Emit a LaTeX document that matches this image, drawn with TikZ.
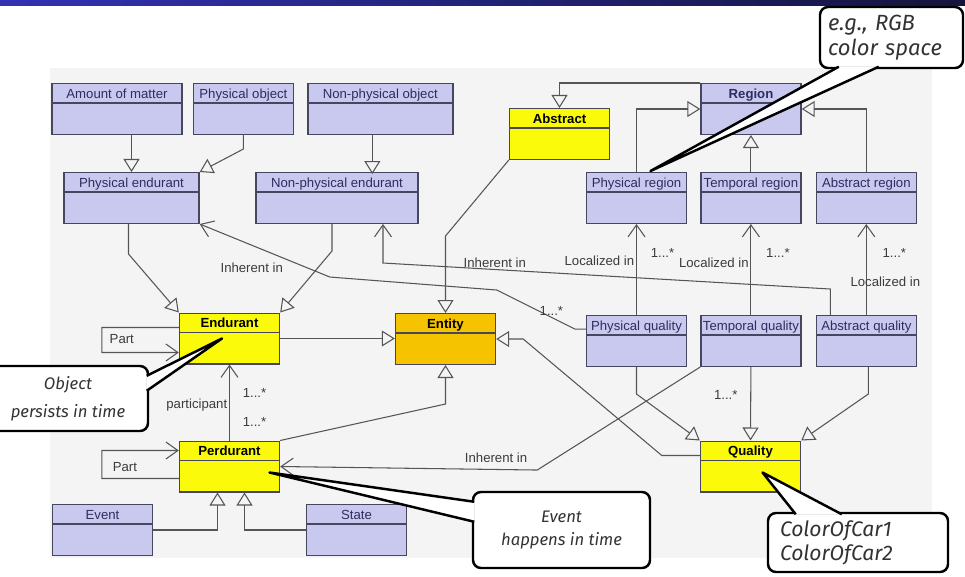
\documentclass[tikz,border=0pt]{standalone}
\usepackage{fontspec}
\setmainfont{Liberation Sans}
\newfontfamily\notefont{Fira Sans}
\usepackage{xcolor}
\usetikzlibrary{positioning,arrows.meta,calc}

\definecolor{lav}{RGB}{201,201,240}
\definecolor{boxc}{RGB}{70,70,95}
\definecolor{navy}{RGB}{45,45,95}
\definecolor{keyyel}{RGB}{250,250,10}
\definecolor{keyorg}{RGB}{245,195,0}
\definecolor{linec}{RGB}{85,85,85}
\definecolor{lblc}{RGB}{60,60,60}
\definecolor{bgc}{RGB}{244,244,244}
\definecolor{barl}{RGB}{50,50,180}
\definecolor{bard}{RGB}{20,20,60}

\begin{document}
\begin{tikzpicture}[x=0.2mm, y=-0.2mm,
  font=\fontsize{7.5}{9}\selectfont,
  cls/.style={draw=boxc, line width=0.8pt, fill=lav, minimum width=20mm, inner xsep=1pt, inner ysep=1.4pt,
    text height=7pt, text depth=19pt, text=navy,
    path picture={\draw[boxc, line width=0.7pt] ([yshift=-11pt]path picture bounding box.north west) -- ([yshift=-11pt]path picture bounding box.north east);}},
  key/.style={cls, fill=keyyel, text=black, font=\bfseries\fontsize{7.5}{9}\selectfont},
  gen/.style={draw=linec, line width=0.6pt, -{Triangle[open,length=2.6mm,width=3.2mm]}},
  assoc/.style={draw=linec, line width=0.6pt, -{Straight Barb[length=2.4mm,width=3.4mm]}},
  lbl/.style={text=lblc, inner sep=1pt},
  note/.style={draw=black, line width=1.4pt, fill=white, rounded corners=1.6mm, align=center, text=black!80,
    font=\notefont\itshape\fontsize{9.5}{13.5}\selectfont},
  notetip/.style={draw=black, line width=1.4pt, fill=white, line join=round}
]
\useasboundingbox (0,0) rectangle (965,576);
\shade[left color=barl, right color=bard] (0,0) rectangle (965,5);
\fill[bgc] (50,68) rectangle (932,558);

% top rows
\node[cls, minimum width=26mm] (amount) at (117,109) {Amount of matter};
\node[cls, right=2mm of amount] (physobj) {Physical object};
\node[cls, minimum width=29mm, right=2.6mm of physobj] (nonphysobj) {Non-physical object};
\node[cls, minimum width=27mm] (physend) at (131.5,198) {Physical endurant};
\node[cls, minimum width=32.4mm] (nonphysend) at (337,198) {Non-physical endurant};
\node[key] (abstract) at (559.5,134) {Abstract};
\node[cls, font=\bfseries\fontsize{7.5}{9}\selectfont] (region) at (751,109) {Region};
\node[cls] (physreg) at (636.5,198) {Physical region};
\node[cls, right=2.6mm of physreg] (tempreg) {Temporal region};
\node[cls, right=2.8mm of tempreg] (absreg) {Abstract region};

% middle row
\node[key] (endurant) at (229.5,338.5) {Endurant};
\node[key, fill=keyorg] (entity) at (445.5,339) {Entity};
\node[cls, below=18.2mm of physreg] (physq) {Physical quality};
\node[cls, below=18.2mm of tempreg] (tempq) {Temporal quality};
\node[cls, below=18.2mm of absreg] (absq) {Abstract quality};

% bottom rows
\node[key] (perdurant) at (229.5,466.5) {Perdurant};
\node[key] (quality) at (750.5,466.5) {Quality};
\node[cls] (event) at (102.5,530) {Event};
\node[cls] (state) at (356.5,530) {State};

% generalizations
\draw[gen] (amount.south -| physend.north) -- (physend.north);
\draw[gen] (physobj.south) -- ++(0,14) -- (physend.north east);
\draw[gen] ([xshift=-1.6mm]nonphysobj.south) -- ++(0,39);
\draw[gen] ([xshift=-0.6mm]physend.south) -- ++(0,30) -- (endurant.north west);
\draw[gen] ([xshift=-1mm]nonphysend.south) -- ++(0,27) -- (endurant.north east);
\draw[gen] (endurant.east) -- (endurant.east -| entity.west);
\draw[gen] (abstract.south west) -- ([yshift=15.4mm]entity.north) -- (entity.north);
\draw[gen] (region.north west) -| (abstract.north);
\draw[gen] (physreg.north) |- (region.west);
\draw[gen] (tempreg.north) -- (tempreg.north |- region.south);
\draw[gen] (absreg.north) |- (region.east);
\draw[gen] (perdurant.north east) -- ([yshift=-7.8mm]entity.south) -- (entity.south);
\draw[gen] ([yshift=2.2mm]quality.west) -- ++(-38,0) -- ([xshift=5.4mm]entity.east) -- (entity.east);
\draw[gen] (physq.south) -- ++(0,27) -- (quality.north west);
\draw[gen] (tempq.south) -- node[lbl, pos=0.38, left=2.2mm] {1...*} (quality.north);
\draw[gen] ([xshift=0.4mm]absq.south) -- ++(0,27) -- (quality.north east);
\draw[gen] (event.east) -| ([xshift=-2.4mm]perdurant.south);
\draw[gen] (state.west) -| ([xshift=3mm]perdurant.south);

% associations
\draw[assoc] (physq.north) -- node[lbl, pos=0.6, left] {Localized in} node[lbl, pos=0.68, right=2.4mm] {1...*} (physreg.south);
\draw[assoc] (tempq.north) -- node[lbl, pos=0.57, left] {Localized in} node[lbl, pos=0.68, right=2.6mm] {1...*} (tempreg.south);
\draw[assoc] (absq.north) -- node[lbl, pos=0.37, xshift=3.8mm] {Localized in} node[lbl, pos=0.68, right=2.8mm] {1...*} (absreg.south);
\draw[assoc] ([xshift=-7.2mm]absq.north) -- ++(0,-26) -- node[lbl, pos=0.75, above] {Inherent in} ([xshift=9.2mm, yshift=-7.8mm]nonphysend.south) -- ([xshift=9.2mm]nonphysend.south);
\draw[assoc] ([yshift=2.4mm]physq.west) -- ++(-11,0) -- node[lbl, pos=0.3, above] {1...*} ++(-78,-39) -- ++(-167,-13) -- node[lbl, pos=0.6, below=3mm] {Inherent in} (physend.south east);
\draw[assoc] (tempq.south west) -- ++(-163,103) -- node[lbl, pos=0.16, above=1mm] {Inherent in} (perdurant.east);
\draw[assoc] (perdurant.north) -- node[lbl, pos=0.46, left] {participant} node[lbl, pos=0.62, right=2.2mm] {1...*} node[lbl, pos=0.25, right=2.2mm] {1...*} (endurant.south);
\draw[assoc] ([yshift=2.2mm]endurant.west) -- node[lbl, pos=0.74, below=1mm] {Part} ++(-77,0) -- ++(0,25) -- ([yshift=-2.8mm]endurant.west);
\draw[assoc] ([yshift=-2.4mm]perdurant.west) -- node[lbl, pos=0.7, above=1mm] {Part} ++(-77,0) -- ++(0,-28) -- ([yshift=3.2mm]perdurant.west);

% callouts
\node[note, minimum width=32mm, minimum height=13mm] (objnote) at (68,398.5) {Object\\[2.5pt]persists in time};
\coordinate (objtip) at ([xshift=-1.5mm]endurant.center);
\path[notetip] ([xshift=-0.5mm, yshift=-2.2mm]objnote.north east) -- (objtip) -- ([xshift=-0.5mm, yshift=-5.2mm]objnote.north east);

\node[note, minimum width=35.4mm, minimum height=15.2mm] (eventnote) at (561.5,530) {Event\\happens in time};
\coordinate (eventtip) at ([xshift=8mm, yshift=-1.2mm]perdurant.center);
\path[notetip] ([xshift=0.5mm, yshift=-2.2mm]eventnote.north west) -- (eventtip) -- ([xshift=0.5mm, yshift=-6.2mm]eventnote.north west);

\node[note, text width=25.4mm, inner xsep=1.6mm, minimum height=12.2mm, align=left, font=\notefont\itshape\fontsize{12.5}{14}\selectfont] (rgbnote) at (891.5,37.5) {e.g., RGB\\color space};
\coordinate (rgbtip) at ([xshift=2.8mm, yshift=0.2mm]physreg.north);
\path[notetip] ([xshift=4mm, yshift=0.5mm]rgbnote.south west) -- (rgbtip) -- ([xshift=12mm, yshift=0.5mm]rgbnote.south west);

\node[note, text width=31.2mm, inner xsep=2.4mm, minimum height=11.8mm, align=left, font=\notefont\itshape\fontsize{12}{13.7}\selectfont] (colornote) at (858,542.5) {ColorOfCar1\\ColorOfCar2};
\coordinate (colortip) at ([xshift=2.4mm, yshift=-1.2mm]quality.center);
\path[notetip] ([xshift=5.8mm, yshift=-0.5mm]colornote.north west) -- (colortip) -- ([xshift=15mm, yshift=-0.5mm]colornote.north west);
\end{tikzpicture}
\end{document}
